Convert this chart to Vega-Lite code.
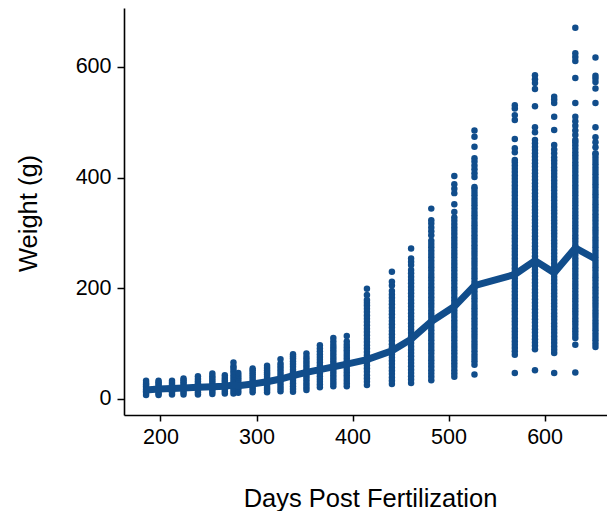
{
"$schema": "https://vega.github.io/schema/vega-lite/v6.json",
"width": 483, "height": 407,
"autosize": {"type": "none"},
"padding": {"left": 124, "top": 8, "right": 0, "bottom": 96},
"background": "white",
"config": {"view": {"stroke": null}, "font": "Liberation Sans"},
"datasets": {
"means": [
{"day":185,"weight":16},{"day":198,"weight":18},{"day":212,"weight":19},{"day":224,"weight":20},{"day":239,"weight":21},{"day":254,"weight":22},{"day":267,"weight":23},{"day":276,"weight":25},{"day":281,"weight":24},{"day":296,"weight":27},{"day":311,"weight":31},{"day":325,"weight":36},{"day":338,"weight":42},{"day":352,"weight":48},{"day":366,"weight":53},{"day":380,"weight":58},{"day":394,"weight":63},{"day":415,"weight":71},{"day":441,"weight":87},{"day":461,"weight":108},{"day":482,"weight":140},{"day":506,"weight":167},{"day":527,"weight":205},{"day":569,"weight":225},{"day":590,"weight":250},{"day":610,"weight":228},{"day":632,"weight":273},{"day":653,"weight":253}
],
"fish": [
{"day":185,"weight":7},{"day":185,"weight":11},{"day":185,"weight":14},{"day":185,"weight":17},{"day":185,"weight":20},{"day":185,"weight":23},{"day":185,"weight":26},{"day":185,"weight":29},{"day":185,"weight":33},
{"day":198,"weight":7},{"day":198,"weight":10},{"day":198,"weight":14},{"day":198,"weight":17},{"day":198,"weight":20},{"day":198,"weight":24},{"day":198,"weight":27},{"day":198,"weight":30},{"day":198,"weight":33},
{"day":212,"weight":8},{"day":212,"weight":12},{"day":212,"weight":15},{"day":212,"weight":18},{"day":212,"weight":22},{"day":212,"weight":25},{"day":212,"weight":29},{"day":212,"weight":33},
{"day":224,"weight":8},{"day":224,"weight":12},{"day":224,"weight":16},{"day":224,"weight":19},{"day":224,"weight":23},{"day":224,"weight":27},{"day":224,"weight":30},{"day":224,"weight":34},{"day":224,"weight":37},
{"day":239,"weight":8},{"day":239,"weight":12},{"day":239,"weight":16},{"day":239,"weight":20},{"day":239,"weight":24},{"day":239,"weight":28},{"day":239,"weight":32},{"day":239,"weight":36},{"day":239,"weight":41},
{"day":254,"weight":9},{"day":254,"weight":13},{"day":254,"weight":17},{"day":254,"weight":21},{"day":254,"weight":25},{"day":254,"weight":29},{"day":254,"weight":33},{"day":254,"weight":37},{"day":254,"weight":41},{"day":254,"weight":46},
{"day":267,"weight":10},{"day":267,"weight":14},{"day":267,"weight":18},{"day":267,"weight":22},{"day":267,"weight":26},{"day":267,"weight":30},{"day":267,"weight":34},{"day":267,"weight":38},{"day":267,"weight":43},
{"day":276,"weight":10},{"day":276,"weight":15},{"day":276,"weight":20},{"day":276,"weight":25},{"day":276,"weight":30},{"day":276,"weight":35},{"day":276,"weight":40},{"day":276,"weight":45},{"day":276,"weight":50},{"day":276,"weight":55},{"day":276,"weight":59},{"day":276,"weight":66},
{"day":281,"weight":11},{"day":281,"weight":15},{"day":281,"weight":19},{"day":281,"weight":23},{"day":281,"weight":27},{"day":281,"weight":31},{"day":281,"weight":35},{"day":281,"weight":39},{"day":281,"weight":43},{"day":281,"weight":47},
{"day":296,"weight":12},{"day":296,"weight":16},{"day":296,"weight":20},{"day":296,"weight":24},{"day":296,"weight":28},{"day":296,"weight":32},{"day":296,"weight":36},{"day":296,"weight":40},{"day":296,"weight":44},{"day":296,"weight":48},{"day":296,"weight":52},{"day":296,"weight":55},
{"day":311,"weight":12},{"day":311,"weight":16},{"day":311,"weight":20},{"day":311,"weight":24},{"day":311,"weight":28},{"day":311,"weight":32},{"day":311,"weight":36},{"day":311,"weight":40},{"day":311,"weight":44},{"day":311,"weight":48},{"day":311,"weight":52},{"day":311,"weight":56},{"day":311,"weight":60},
{"day":325,"weight":14},{"day":325,"weight":19},{"day":325,"weight":24},{"day":325,"weight":29},{"day":325,"weight":34},{"day":325,"weight":39},{"day":325,"weight":44},{"day":325,"weight":49},{"day":325,"weight":54},{"day":325,"weight":59},{"day":325,"weight":64},{"day":325,"weight":72},
{"day":338,"weight":13},{"day":338,"weight":18},{"day":338,"weight":23},{"day":338,"weight":28},{"day":338,"weight":33},{"day":338,"weight":38},{"day":338,"weight":43},{"day":338,"weight":48},{"day":338,"weight":53},{"day":338,"weight":58},{"day":338,"weight":63},{"day":338,"weight":68},{"day":338,"weight":73},{"day":338,"weight":77},{"day":338,"weight":81},
{"day":352,"weight":16},{"day":352,"weight":21},{"day":352,"weight":26},{"day":352,"weight":31},{"day":352,"weight":36},{"day":352,"weight":41},{"day":352,"weight":46},{"day":352,"weight":51},{"day":352,"weight":56},{"day":352,"weight":61},{"day":352,"weight":66},{"day":352,"weight":71},{"day":352,"weight":76},{"day":352,"weight":82},
{"day":366,"weight":21},{"day":366,"weight":26},{"day":366,"weight":31},{"day":366,"weight":36},{"day":366,"weight":41},{"day":366,"weight":46},{"day":366,"weight":51},{"day":366,"weight":56},{"day":366,"weight":61},{"day":366,"weight":66},{"day":366,"weight":71},{"day":366,"weight":76},{"day":366,"weight":81},{"day":366,"weight":86},{"day":366,"weight":91},{"day":366,"weight":97},
{"day":380,"weight":23},{"day":380,"weight":28},{"day":380,"weight":33},{"day":380,"weight":38},{"day":380,"weight":43},{"day":380,"weight":48},{"day":380,"weight":53},{"day":380,"weight":58},{"day":380,"weight":63},{"day":380,"weight":68},{"day":380,"weight":73},{"day":380,"weight":78},{"day":380,"weight":83},{"day":380,"weight":88},{"day":380,"weight":93},{"day":380,"weight":98},{"day":380,"weight":104},{"day":380,"weight":110},
{"day":394,"weight":23},{"day":394,"weight":28},{"day":394,"weight":33},{"day":394,"weight":38},{"day":394,"weight":43},{"day":394,"weight":48},{"day":394,"weight":53},{"day":394,"weight":58},{"day":394,"weight":63},{"day":394,"weight":68},{"day":394,"weight":73},{"day":394,"weight":78},{"day":394,"weight":83},{"day":394,"weight":88},{"day":394,"weight":93},{"day":394,"weight":98},{"day":394,"weight":104},{"day":394,"weight":114},
{"day":415,"weight":25},{"day":415,"weight":31},{"day":415,"weight":37},{"day":415,"weight":43},{"day":415,"weight":49},{"day":415,"weight":55},{"day":415,"weight":61},{"day":415,"weight":67},{"day":415,"weight":73},{"day":415,"weight":79},{"day":415,"weight":85},{"day":415,"weight":91},{"day":415,"weight":97},{"day":415,"weight":103},{"day":415,"weight":109},{"day":415,"weight":115},{"day":415,"weight":121},{"day":415,"weight":127},{"day":415,"weight":133},{"day":415,"weight":139},{"day":415,"weight":145},{"day":415,"weight":151},{"day":415,"weight":157},{"day":415,"weight":163},{"day":415,"weight":169},{"day":415,"weight":174},{"day":415,"weight":179},{"day":415,"weight":188},{"day":415,"weight":199},
{"day":441,"weight":27},{"day":441,"weight":33},{"day":441,"weight":39},{"day":441,"weight":45},{"day":441,"weight":51},{"day":441,"weight":57},{"day":441,"weight":63},{"day":441,"weight":69},{"day":441,"weight":75},{"day":441,"weight":81},{"day":441,"weight":87},{"day":441,"weight":93},{"day":441,"weight":99},{"day":441,"weight":105},{"day":441,"weight":111},{"day":441,"weight":117},{"day":441,"weight":123},{"day":441,"weight":129},{"day":441,"weight":135},{"day":441,"weight":141},{"day":441,"weight":147},{"day":441,"weight":153},{"day":441,"weight":159},{"day":441,"weight":165},{"day":441,"weight":171},{"day":441,"weight":177},{"day":441,"weight":183},{"day":441,"weight":189},{"day":441,"weight":195},{"day":441,"weight":205},{"day":441,"weight":212},{"day":441,"weight":230},
{"day":461,"weight":29},{"day":461,"weight":35},{"day":461,"weight":41},{"day":461,"weight":47},{"day":461,"weight":53},{"day":461,"weight":59},{"day":461,"weight":65},{"day":461,"weight":71},{"day":461,"weight":77},{"day":461,"weight":83},{"day":461,"weight":89},{"day":461,"weight":95},{"day":461,"weight":101},{"day":461,"weight":107},{"day":461,"weight":113},{"day":461,"weight":119},{"day":461,"weight":125},{"day":461,"weight":131},{"day":461,"weight":137},{"day":461,"weight":143},{"day":461,"weight":149},{"day":461,"weight":155},{"day":461,"weight":161},{"day":461,"weight":167},{"day":461,"weight":173},{"day":461,"weight":179},{"day":461,"weight":185},{"day":461,"weight":191},{"day":461,"weight":197},{"day":461,"weight":203},{"day":461,"weight":209},{"day":461,"weight":215},{"day":461,"weight":221},{"day":461,"weight":227},{"day":461,"weight":233},{"day":461,"weight":242},{"day":461,"weight":248},{"day":461,"weight":254},{"day":461,"weight":272},
{"day":482,"weight":34},{"day":482,"weight":40},{"day":482,"weight":46},{"day":482,"weight":52},{"day":482,"weight":58},{"day":482,"weight":64},{"day":482,"weight":70},{"day":482,"weight":76},{"day":482,"weight":82},{"day":482,"weight":88},{"day":482,"weight":94},{"day":482,"weight":100},{"day":482,"weight":106},{"day":482,"weight":112},{"day":482,"weight":118},{"day":482,"weight":124},{"day":482,"weight":130},{"day":482,"weight":136},{"day":482,"weight":142},{"day":482,"weight":148},{"day":482,"weight":154},{"day":482,"weight":160},{"day":482,"weight":166},{"day":482,"weight":172},{"day":482,"weight":178},{"day":482,"weight":184},{"day":482,"weight":190},{"day":482,"weight":196},{"day":482,"weight":202},{"day":482,"weight":208},{"day":482,"weight":214},{"day":482,"weight":220},{"day":482,"weight":226},{"day":482,"weight":232},{"day":482,"weight":238},{"day":482,"weight":244},{"day":482,"weight":250},{"day":482,"weight":256},{"day":482,"weight":262},{"day":482,"weight":268},{"day":482,"weight":274},{"day":482,"weight":280},{"day":482,"weight":286},{"day":482,"weight":296},{"day":482,"weight":303},{"day":482,"weight":310},{"day":482,"weight":317},{"day":482,"weight":323},{"day":482,"weight":344},
{"day":506,"weight":40},{"day":506,"weight":46},{"day":506,"weight":52},{"day":506,"weight":58},{"day":506,"weight":64},{"day":506,"weight":70},{"day":506,"weight":76},{"day":506,"weight":82},{"day":506,"weight":88},{"day":506,"weight":94},{"day":506,"weight":100},{"day":506,"weight":106},{"day":506,"weight":112},{"day":506,"weight":118},{"day":506,"weight":124},{"day":506,"weight":130},{"day":506,"weight":136},{"day":506,"weight":142},{"day":506,"weight":148},{"day":506,"weight":154},{"day":506,"weight":160},{"day":506,"weight":166},{"day":506,"weight":172},{"day":506,"weight":178},{"day":506,"weight":184},{"day":506,"weight":190},{"day":506,"weight":196},{"day":506,"weight":202},{"day":506,"weight":208},{"day":506,"weight":214},{"day":506,"weight":220},{"day":506,"weight":226},{"day":506,"weight":232},{"day":506,"weight":238},{"day":506,"weight":244},{"day":506,"weight":250},{"day":506,"weight":256},{"day":506,"weight":262},{"day":506,"weight":268},{"day":506,"weight":274},{"day":506,"weight":280},{"day":506,"weight":286},{"day":506,"weight":292},{"day":506,"weight":298},{"day":506,"weight":304},{"day":506,"weight":310},{"day":506,"weight":316},{"day":506,"weight":322},{"day":506,"weight":328},{"day":506,"weight":338},{"day":506,"weight":352},{"day":506,"weight":372},{"day":506,"weight":380},{"day":506,"weight":388},{"day":506,"weight":403},
{"day":527,"weight":44},{"day":527,"weight":62},{"day":527,"weight":68},{"day":527,"weight":74},{"day":527,"weight":80},{"day":527,"weight":86},{"day":527,"weight":92},{"day":527,"weight":98},{"day":527,"weight":104},{"day":527,"weight":110},{"day":527,"weight":116},{"day":527,"weight":122},{"day":527,"weight":128},{"day":527,"weight":134},{"day":527,"weight":140},{"day":527,"weight":146},{"day":527,"weight":152},{"day":527,"weight":158},{"day":527,"weight":164},{"day":527,"weight":170},{"day":527,"weight":176},{"day":527,"weight":182},{"day":527,"weight":188},{"day":527,"weight":194},{"day":527,"weight":200},{"day":527,"weight":206},{"day":527,"weight":212},{"day":527,"weight":218},{"day":527,"weight":224},{"day":527,"weight":230},{"day":527,"weight":236},{"day":527,"weight":242},{"day":527,"weight":248},{"day":527,"weight":254},{"day":527,"weight":260},{"day":527,"weight":266},{"day":527,"weight":272},{"day":527,"weight":278},{"day":527,"weight":284},{"day":527,"weight":290},{"day":527,"weight":296},{"day":527,"weight":302},{"day":527,"weight":308},{"day":527,"weight":314},{"day":527,"weight":320},{"day":527,"weight":326},{"day":527,"weight":332},{"day":527,"weight":338},{"day":527,"weight":344},{"day":527,"weight":350},{"day":527,"weight":356},{"day":527,"weight":362},{"day":527,"weight":368},{"day":527,"weight":374},{"day":527,"weight":380},{"day":527,"weight":383},{"day":527,"weight":401},{"day":527,"weight":408},{"day":527,"weight":415},{"day":527,"weight":422},{"day":527,"weight":429},{"day":527,"weight":435},{"day":527,"weight":456},{"day":527,"weight":474},{"day":527,"weight":485},
{"day":569,"weight":47},{"day":569,"weight":80},{"day":569,"weight":86},{"day":569,"weight":92},{"day":569,"weight":98},{"day":569,"weight":104},{"day":569,"weight":110},{"day":569,"weight":116},{"day":569,"weight":122},{"day":569,"weight":128},{"day":569,"weight":134},{"day":569,"weight":140},{"day":569,"weight":146},{"day":569,"weight":152},{"day":569,"weight":158},{"day":569,"weight":164},{"day":569,"weight":170},{"day":569,"weight":176},{"day":569,"weight":182},{"day":569,"weight":188},{"day":569,"weight":194},{"day":569,"weight":200},{"day":569,"weight":206},{"day":569,"weight":212},{"day":569,"weight":218},{"day":569,"weight":224},{"day":569,"weight":230},{"day":569,"weight":236},{"day":569,"weight":242},{"day":569,"weight":248},{"day":569,"weight":254},{"day":569,"weight":260},{"day":569,"weight":266},{"day":569,"weight":272},{"day":569,"weight":278},{"day":569,"weight":284},{"day":569,"weight":290},{"day":569,"weight":296},{"day":569,"weight":302},{"day":569,"weight":308},{"day":569,"weight":314},{"day":569,"weight":320},{"day":569,"weight":326},{"day":569,"weight":332},{"day":569,"weight":338},{"day":569,"weight":344},{"day":569,"weight":350},{"day":569,"weight":356},{"day":569,"weight":362},{"day":569,"weight":368},{"day":569,"weight":374},{"day":569,"weight":380},{"day":569,"weight":386},{"day":569,"weight":392},{"day":569,"weight":398},{"day":569,"weight":404},{"day":569,"weight":410},{"day":569,"weight":416},{"day":569,"weight":422},{"day":569,"weight":428},{"day":569,"weight":432},{"day":569,"weight":446},{"day":569,"weight":453},{"day":569,"weight":470},{"day":569,"weight":504},{"day":569,"weight":513},{"day":569,"weight":525},{"day":569,"weight":531},
{"day":590,"weight":52},{"day":590,"weight":90},{"day":590,"weight":96},{"day":590,"weight":102},{"day":590,"weight":108},{"day":590,"weight":114},{"day":590,"weight":120},{"day":590,"weight":126},{"day":590,"weight":132},{"day":590,"weight":138},{"day":590,"weight":144},{"day":590,"weight":150},{"day":590,"weight":156},{"day":590,"weight":162},{"day":590,"weight":168},{"day":590,"weight":174},{"day":590,"weight":180},{"day":590,"weight":186},{"day":590,"weight":192},{"day":590,"weight":198},{"day":590,"weight":204},{"day":590,"weight":210},{"day":590,"weight":216},{"day":590,"weight":222},{"day":590,"weight":228},{"day":590,"weight":234},{"day":590,"weight":240},{"day":590,"weight":246},{"day":590,"weight":252},{"day":590,"weight":258},{"day":590,"weight":264},{"day":590,"weight":270},{"day":590,"weight":276},{"day":590,"weight":282},{"day":590,"weight":288},{"day":590,"weight":294},{"day":590,"weight":300},{"day":590,"weight":306},{"day":590,"weight":312},{"day":590,"weight":318},{"day":590,"weight":324},{"day":590,"weight":330},{"day":590,"weight":336},{"day":590,"weight":342},{"day":590,"weight":348},{"day":590,"weight":354},{"day":590,"weight":360},{"day":590,"weight":366},{"day":590,"weight":372},{"day":590,"weight":378},{"day":590,"weight":384},{"day":590,"weight":390},{"day":590,"weight":396},{"day":590,"weight":402},{"day":590,"weight":408},{"day":590,"weight":414},{"day":590,"weight":420},{"day":590,"weight":426},{"day":590,"weight":432},{"day":590,"weight":438},{"day":590,"weight":444},{"day":590,"weight":450},{"day":590,"weight":456},{"day":590,"weight":462},{"day":590,"weight":468},{"day":590,"weight":482},{"day":590,"weight":491},{"day":590,"weight":529},{"day":590,"weight":560},{"day":590,"weight":571},{"day":590,"weight":578},{"day":590,"weight":585},
{"day":610,"weight":47},{"day":610,"weight":83},{"day":610,"weight":89},{"day":610,"weight":95},{"day":610,"weight":101},{"day":610,"weight":107},{"day":610,"weight":113},{"day":610,"weight":119},{"day":610,"weight":125},{"day":610,"weight":131},{"day":610,"weight":137},{"day":610,"weight":143},{"day":610,"weight":149},{"day":610,"weight":155},{"day":610,"weight":161},{"day":610,"weight":167},{"day":610,"weight":173},{"day":610,"weight":179},{"day":610,"weight":185},{"day":610,"weight":191},{"day":610,"weight":197},{"day":610,"weight":203},{"day":610,"weight":209},{"day":610,"weight":215},{"day":610,"weight":221},{"day":610,"weight":227},{"day":610,"weight":233},{"day":610,"weight":239},{"day":610,"weight":245},{"day":610,"weight":251},{"day":610,"weight":257},{"day":610,"weight":263},{"day":610,"weight":269},{"day":610,"weight":275},{"day":610,"weight":281},{"day":610,"weight":287},{"day":610,"weight":293},{"day":610,"weight":299},{"day":610,"weight":305},{"day":610,"weight":311},{"day":610,"weight":317},{"day":610,"weight":323},{"day":610,"weight":329},{"day":610,"weight":335},{"day":610,"weight":341},{"day":610,"weight":347},{"day":610,"weight":353},{"day":610,"weight":359},{"day":610,"weight":365},{"day":610,"weight":371},{"day":610,"weight":377},{"day":610,"weight":383},{"day":610,"weight":389},{"day":610,"weight":395},{"day":610,"weight":401},{"day":610,"weight":407},{"day":610,"weight":413},{"day":610,"weight":419},{"day":610,"weight":425},{"day":610,"weight":431},{"day":610,"weight":437},{"day":610,"weight":444},{"day":610,"weight":451},{"day":610,"weight":459},{"day":610,"weight":486},{"day":610,"weight":510},{"day":610,"weight":535},{"day":610,"weight":541},{"day":610,"weight":546},
{"day":632,"weight":48},{"day":632,"weight":98},{"day":632,"weight":110},{"day":632,"weight":116},{"day":632,"weight":122},{"day":632,"weight":128},{"day":632,"weight":134},{"day":632,"weight":140},{"day":632,"weight":146},{"day":632,"weight":152},{"day":632,"weight":158},{"day":632,"weight":164},{"day":632,"weight":170},{"day":632,"weight":176},{"day":632,"weight":182},{"day":632,"weight":188},{"day":632,"weight":194},{"day":632,"weight":200},{"day":632,"weight":206},{"day":632,"weight":212},{"day":632,"weight":218},{"day":632,"weight":224},{"day":632,"weight":230},{"day":632,"weight":236},{"day":632,"weight":242},{"day":632,"weight":248},{"day":632,"weight":254},{"day":632,"weight":260},{"day":632,"weight":266},{"day":632,"weight":272},{"day":632,"weight":278},{"day":632,"weight":284},{"day":632,"weight":290},{"day":632,"weight":296},{"day":632,"weight":302},{"day":632,"weight":308},{"day":632,"weight":314},{"day":632,"weight":320},{"day":632,"weight":326},{"day":632,"weight":332},{"day":632,"weight":338},{"day":632,"weight":344},{"day":632,"weight":350},{"day":632,"weight":356},{"day":632,"weight":362},{"day":632,"weight":368},{"day":632,"weight":374},{"day":632,"weight":380},{"day":632,"weight":386},{"day":632,"weight":392},{"day":632,"weight":398},{"day":632,"weight":404},{"day":632,"weight":410},{"day":632,"weight":416},{"day":632,"weight":422},{"day":632,"weight":428},{"day":632,"weight":434},{"day":632,"weight":440},{"day":632,"weight":446},{"day":632,"weight":452},{"day":632,"weight":458},{"day":632,"weight":464},{"day":632,"weight":468},{"day":632,"weight":477},{"day":632,"weight":485},{"day":632,"weight":494},{"day":632,"weight":502},{"day":632,"weight":510},{"day":632,"weight":535},{"day":632,"weight":580},{"day":632,"weight":611},{"day":632,"weight":618},{"day":632,"weight":625},{"day":632,"weight":671},
{"day":653,"weight":94},{"day":653,"weight":100},{"day":653,"weight":106},{"day":653,"weight":112},{"day":653,"weight":118},{"day":653,"weight":124},{"day":653,"weight":130},{"day":653,"weight":136},{"day":653,"weight":142},{"day":653,"weight":148},{"day":653,"weight":154},{"day":653,"weight":160},{"day":653,"weight":166},{"day":653,"weight":172},{"day":653,"weight":178},{"day":653,"weight":184},{"day":653,"weight":190},{"day":653,"weight":196},{"day":653,"weight":202},{"day":653,"weight":208},{"day":653,"weight":214},{"day":653,"weight":220},{"day":653,"weight":226},{"day":653,"weight":232},{"day":653,"weight":238},{"day":653,"weight":244},{"day":653,"weight":250},{"day":653,"weight":256},{"day":653,"weight":262},{"day":653,"weight":268},{"day":653,"weight":274},{"day":653,"weight":280},{"day":653,"weight":286},{"day":653,"weight":292},{"day":653,"weight":298},{"day":653,"weight":304},{"day":653,"weight":310},{"day":653,"weight":316},{"day":653,"weight":322},{"day":653,"weight":328},{"day":653,"weight":334},{"day":653,"weight":340},{"day":653,"weight":346},{"day":653,"weight":352},{"day":653,"weight":358},{"day":653,"weight":364},{"day":653,"weight":370},{"day":653,"weight":376},{"day":653,"weight":382},{"day":653,"weight":388},{"day":653,"weight":394},{"day":653,"weight":400},{"day":653,"weight":406},{"day":653,"weight":412},{"day":653,"weight":418},{"day":653,"weight":424},{"day":653,"weight":430},{"day":653,"weight":436},{"day":653,"weight":442},{"day":653,"weight":444},{"day":653,"weight":455},{"day":653,"weight":464},{"day":653,"weight":473},{"day":653,"weight":491},{"day":653,"weight":535},{"day":653,"weight":561},{"day":653,"weight":573},{"day":653,"weight":579},{"day":653,"weight":584},{"day":653,"weight":617}
]
},
"encoding": {
"x": {"field": "day", "type": "quantitative",
 "scale": {"domain": [162, 665], "nice": false, "zero": false},
 "axis": {"title": "Days Post Fertilization", "values": [200, 300, 400, 500, 600], "grid": false,
  "domainColor": "black", "domainWidth": 1.6, "tickColor": "black", "tickSize": 6, "tickWidth": 1.5,
  "labelFontSize": 21.5, "labelColor": "black", "labelPadding": 5, "labelFlush": false,
  "titleFontSize": 25.5, "titleFontWeight": "normal", "titleColor": "black",
  "titleX": 246, "titleY": 91, "titleBaseline": "alphabetic", "titleAlign": "center", "titleAnchor": null}},
"y": {"field": "weight", "type": "quantitative",
 "scale": {"domain": [-29, 706.6], "nice": false, "zero": false},
 "axis": {"title": "Weight (g)", "values": [0, 200, 400, 600], "grid": false,
  "domainColor": "black", "domainWidth": 1.6, "tickColor": "black", "tickSize": 7, "tickWidth": 1.5,
  "labelFontSize": 21.5, "labelColor": "black", "labelPadding": 6, "labelFlush": false,
  "titleFontSize": 25.5, "titleFontWeight": "normal", "titleColor": "black",
  "titleX": -88, "titleY": 205, "titleAngle": -90, "titleBaseline": "alphabetic", "titleAlign": "center"}}
},
"layer": [
{"data": {"name": "fish"}, "mark": {"type": "circle", "size": 42, "opacity": 1, "color": "#114d8b"}},
{"data": {"name": "means"}, "mark": {"type": "line", "strokeWidth": 7, "color": "#114d8b", "strokeJoin": "miter"}}
]
}
